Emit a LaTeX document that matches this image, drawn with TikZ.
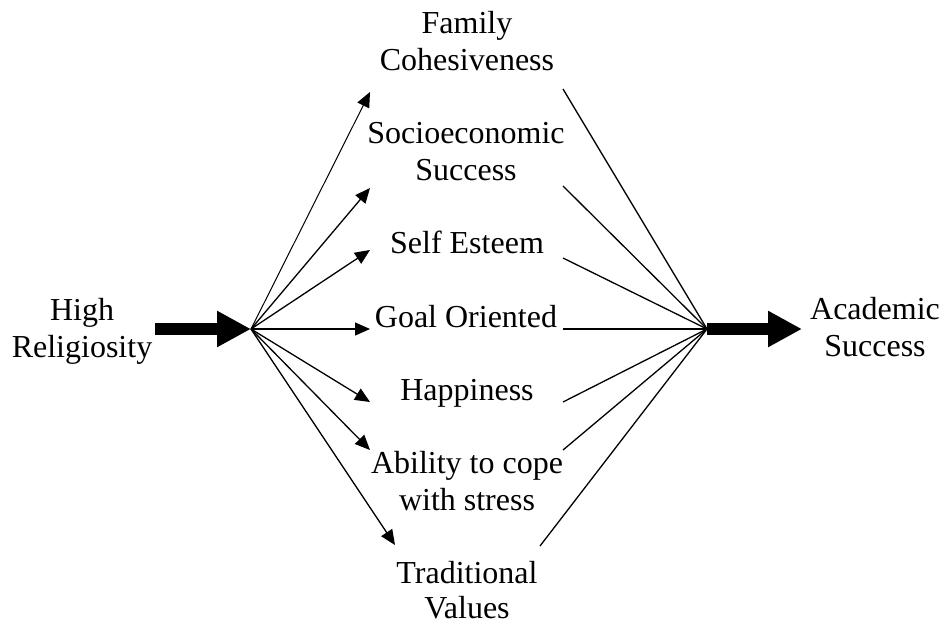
\documentclass[tikz,border=0pt]{standalone}
\usepackage{fontspec}
\setmainfont{Liberation Serif}
\usetikzlibrary{arrows.meta}

% two-line centred label whose baseline is the first line; optional line distance
\newcommand{\lbltwo}[3][37pt]{\vtop{\baselineskip=#1\halign{\hfil##\hfil\cr #2\cr #3\cr}}}

\begin{document}
\begin{tikzpicture}[x=1pt,y=-1pt,
  lbl/.style={anchor=base, inner sep=0pt, font=\fontsize{32}{37}\selectfont},
  fanin/.style={line width=1.3pt, -{Triangle[length=15pt,width=13pt]}},
  fanout/.style={line width=1.3pt},
  bigarrow/.style={line width=12pt, -{Triangle[length=34pt,width=34pt]}}]
  \useasboundingbox (0,0) rectangle (940,625);

  % labels
  \node[lbl] (rel)  at (82,320)  {\lbltwo{High}{Religiosity}};
  \node[lbl] (fam)  at (467,33)  {\lbltwo{Family}{Cohesiveness}};
  \node[lbl] (soc)  at (466,143) {\lbltwo{Socioeconomic}{Success}};
  \node[lbl] (self) at (467,253) {Self Esteem};
  \node[lbl] (goal) at (466,327) {Goal Oriented};
  \node[lbl] (hap)  at (467,400) {Happiness};
  \node[lbl] (abil) at (467,473) {\lbltwo{Ability to cope}{with stress}};
  \node[lbl] (trad) at (467,583) {\lbltwo[35pt]{Traditional}{Values}};
  \node[lbl] (acad) at (875,319) {\lbltwo{Academic}{Success}};

  % hubs and connector ends
  \coordinate (hubL) at (251,329);
  \coordinate (hubR) at (707,329);
  \coordinate (relR) at (155,329);
  \coordinate (acadL) at (802,329);

  \coordinate (famI)  at (370,92);
  \coordinate (socI)  at (370,188);
  \coordinate (selfI) at (370,250);
  \coordinate (goalI) at (370,329);
  \coordinate (hapI)  at (370,402);
  \coordinate (abilI) at (370,450);
  \coordinate (tradI) at (395,545);

  \coordinate (famO)  at (563,89);
  \coordinate (socO)  at (563,186);
  \coordinate (selfO) at (563,258);
  \coordinate (goalO) at (563,329);
  \coordinate (hapO)  at (563,402);
  \coordinate (abilO) at (563,450);
  \coordinate (tradO) at (540,546);

  % thick arrows
  \draw[bigarrow] (relR) -- (hubL);
  \draw[bigarrow] (hubR) -- (acadL);

  % fan from religiosity to factors
  \draw[fanin, line width=1pt] (hubL) -- (famI);
  \foreach \t in {socI,selfI,goalI,hapI,abilI,tradI}
    \draw[fanin] (hubL) -- (\t);

  % fan from factors to success
  \foreach \s in {famO,socO,selfO,goalO,hapO,abilO,tradO}
    \draw[fanout] (\s) -- (hubR);
\end{tikzpicture}
\end{document}
